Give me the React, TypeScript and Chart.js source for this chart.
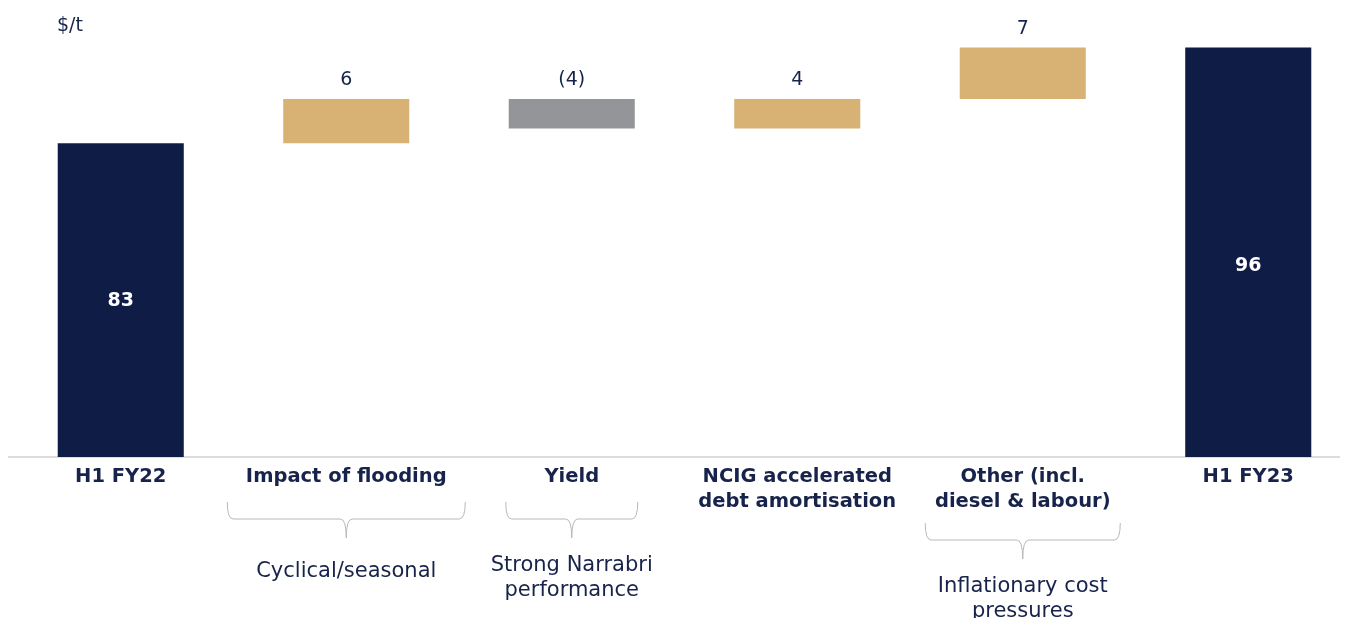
import React, { useEffect, useRef } from "react";
import { Chart, registerables } from "chart.js";

Chart.register(...registerables);

// ---------- data ----------
const CATEGORIES: string[][] = [
  ["H1 FY22"],
  ["Impact of flooding"],
  ["Yield"],
  ["NCIG accelerated", "debt amortisation"],
  ["Other (incl.", "diesel & labour)"],
  ["H1 FY23"],
];
const VALUES = [83, 6, -4, 4, 7, 96];
const KINDS = ["total", "delta", "delta", "delta", "delta", "total"];
const VALUE_LABELS = ["83", "6", "(4)", "4", "7", "96"];
const UNIT_LABEL = "$/t";
const NOTE_CATEGORY = [1, 2, 4];
const NOTE_TEXT: string[][] = [
  ["Cyclical/seasonal"],
  ["Strong Narrabri", "performance"],
  ["Inflationary cost", "pressures"],
];
const Y_MIN = 40.3;
const Y_MAX = 100.3;

// ---------- styles ----------
const NAVY = "#0f1c45";
const TEXT = "#17234b";
const GOLD = "#d8b275";
const GREY = "#939598";
const FONT = "'DejaVu Sans', sans-serif";
const NOTE_BRACKET_WIDTH = [238, 132, 195];
const INSIDE_LABEL_SHIFT = [1, 0, 0, 0, 0, 14];

function buildRanges(): [number, number][] {
  let run = 0;
  return VALUES.map((v, i) => {
    if (KINDS[i] === "total") {
      run = v;
      return [0, v] as [number, number];
    }
    const r: [number, number] = [run, run + v];
    run += v;
    return r;
  });
}

const labelPlugin = {
  id: "waterfallLabels",
  afterDatasetsDraw(chart: any) {
    const { ctx, chartArea } = chart;
    const meta = chart.getDatasetMeta(0);
    ctx.save();
    ctx.textAlign = "center";
    ctx.textBaseline = "middle";
    meta.data.forEach((bar: any, i: number) => {
      const top = Math.min(bar.y, bar.base);
      if (KINDS[i] === "total") {
        const bottom = Math.min(Math.max(bar.y, bar.base), chartArea.bottom);
        ctx.fillStyle = "#ffffff";
        ctx.font = `bold 19px ${FONT}`;
        ctx.fillText(VALUE_LABELS[i], bar.x, (top + bottom) / 2 + INSIDE_LABEL_SHIFT[i]);
      } else {
        ctx.fillStyle = TEXT;
        ctx.font = `19px ${FONT}`;
        ctx.fillText(VALUE_LABELS[i], bar.x, top - 19);
      }
    });
    // unit label
    ctx.font = `19px ${FONT}`;
    ctx.fillStyle = TEXT;
    ctx.fillText(UNIT_LABEL, chartArea.left + 62, chartArea.top + 10);
    ctx.restore();
  },
  afterDraw(chart: any) {
    const { ctx, chartArea } = chart;
    const xs = chart.scales.x;
    ctx.save();
    NOTE_CATEGORY.forEach((ci, k) => {
      const cx = xs.getPixelForValue(ci);
      const w = NOTE_BRACKET_WIDTH[k];
      const x1 = cx - w / 2;
      const x2 = cx + w / 2;
      const lines = CATEGORIES[ci].length;
      const top = chartArea.bottom + 45 + (lines - 1) * 21;
      const mid = top + 17;
      const tip = top + 36;
      const r = 6;
      ctx.strokeStyle = "#b8b8b8";
      ctx.lineWidth = 1;
      ctx.beginPath();
      ctx.moveTo(x1, top);
      ctx.quadraticCurveTo(x1, mid, x1 + r, mid);
      ctx.lineTo(cx - r, mid);
      ctx.quadraticCurveTo(cx, mid, cx, tip);
      ctx.quadraticCurveTo(cx, mid, cx + r, mid);
      ctx.lineTo(x2 - r, mid);
      ctx.quadraticCurveTo(x2, mid, x2, top);
      ctx.stroke();
      const text = NOTE_TEXT[k];
      const lh = 25;
      const first = text.length > 1 ? tip + 28 : tip + 34;
      ctx.fillStyle = TEXT;
      ctx.font = `21px ${FONT}`;
      ctx.textAlign = "center";
      ctx.textBaseline = "middle";
      text.forEach((t, j) => {
        ctx.fillText(t, cx, first + j * lh);
      });
    });
    ctx.restore();
  },
};

export default function App() {
  const ref = useRef<HTMLCanvasElement>(null);
  useEffect(() => {
    if (!ref.current) return;
    const chart = new Chart(ref.current, {
      type: "bar",
      data: {
        labels: CATEGORIES,
        datasets: [
          {
            data: buildRanges() as any,
            backgroundColor: VALUES.map((v, i) =>
              KINDS[i] === "total" ? NAVY : v < 0 ? GREY : GOLD
            ),
            borderWidth: 0,
            borderSkipped: false,
            barPercentage: 0.559,
            categoryPercentage: 1,
          },
        ],
      },
      options: {
        responsive: false,
        animation: false,
        layout: { padding: { top: 8, left: 0, right: 0, bottom: 0 } },
        plugins: { legend: { display: false }, tooltip: { enabled: false } },
        scales: {
          x: {
            grid: { display: false, drawTicks: false },
            border: { display: true, color: "#dcdcdc", width: 2 },
            afterFit: (scale: any) => {
              scale.height = 191;
            },
            ticks: {
              color: TEXT,
              padding: 7,
              maxRotation: 0,
              autoSkip: false,
              font: { family: FONT, size: 19.5, weight: "bold", lineHeight: 1.28 },
            },
          },
          y: {
            display: false,
            min: Y_MIN,
            max: Y_MAX,
          },
        },
      },
      plugins: [labelPlugin],
    });
    return () => chart.destroy();
  }, []);
  return (
    <div style={{ width: 1340, height: 610, overflow: "hidden" }}>
      <canvas ref={ref} width={1353} height={640} style={{ display: "block" }} />
    </div>
  );
}
